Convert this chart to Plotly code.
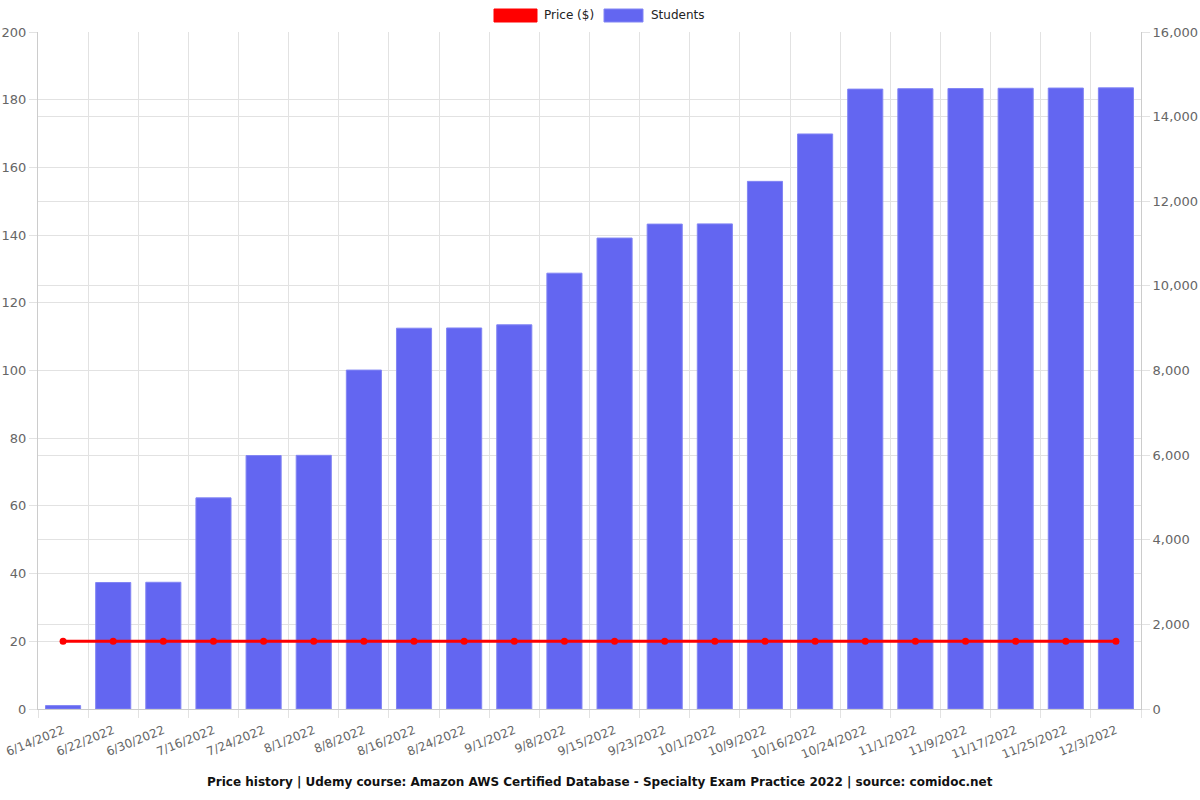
import plotly.graph_objects as go

dates = ["6/14/2022", "6/22/2022", "6/30/2022", "7/16/2022", "7/24/2022", "8/1/2022",
         "8/8/2022", "8/16/2022", "8/24/2022", "9/1/2022", "9/8/2022", "9/15/2022",
         "9/23/2022", "10/1/2022", "10/9/2022", "10/16/2022", "10/24/2022", "11/1/2022",
         "11/9/2022", "11/17/2022", "11/25/2022", "12/3/2022"]
students = [80, 2990, 2995, 4990, 5990, 5995, 8010, 9000, 9005, 9080, 10300, 11130,
            11460, 11465, 12470, 13590, 14650, 14660, 14665, 14670, 14675, 14680]
price = [20] * len(dates)

title_text = "Price history | Udemy course: Amazon AWS Certified Database - Specialty Exam Practice 2022 | source: comidoc.net"

fig = go.Figure()
fig.add_trace(go.Bar(x=dates, y=students, name="Students", yaxis="y",
                     marker=dict(color="#6366f1", line=dict(color="#8285f4", width=1)),
                     width=0.7, showlegend=False))
fig.add_trace(go.Scatter(x=dates, y=price, name="Price ($)", mode="lines+markers",
                         yaxis="y2",
                         line=dict(color="#ff0000", width=3),
                         marker=dict(color="#ff0000", size=7),
                         showlegend=False))

grid = "#e2e2e2"
font_fam = "DejaVu Sans"
PW, PH = 1103, 677  # plot area size in px

# custom legend (wide swatches like the reference)
shapes = [
    dict(type="rect", xref="paper", yref="paper", x0=(494 - 38) / PW, x1=(537 - 38) / PW,
         y0=1 + 10 / PH, y1=1 + 23 / PH, fillcolor="#ff0000", line=dict(color="#ff0000", width=1)),
    dict(type="rect", xref="paper", yref="paper", x0=(604 - 38) / PW, x1=(643 - 38) / PW,
         y0=1 + 10 / PH, y1=1 + 23 / PH, fillcolor="#6366f1", line=dict(color="#8285f4", width=1)),
]
annotations = [
    dict(text="Price ($)", xref="paper", yref="paper", x=(542 - 38) / PW, y=1 + 16.5 / PH,
         xanchor="left", yanchor="middle", showarrow=False,
         font=dict(size=12, color="#222222", family=font_fam)),
    dict(text="Students", xref="paper", yref="paper", x=(649 - 38) / PW, y=1 + 16.5 / PH,
         xanchor="left", yanchor="middle", showarrow=False,
         font=dict(size=12, color="#222222", family=font_fam)),
    dict(text="<b>" + title_text + "</b>", xref="paper", yref="paper",
         x=(600 - 38) / PW, y=0, yshift=-73, xanchor="center", yanchor="middle",
         showarrow=False, font=dict(size=12, color="#111111", family=font_fam)),
]

fig.update_layout(
    width=1200, height=800,
    margin=dict(l=38, r=59, t=32, b=91),
    plot_bgcolor="white", paper_bgcolor="white",
    font=dict(family=font_fam, size=12, color="#666666"),
    showlegend=False,
    xaxis=dict(type="category", range=[-0.5, len(dates) - 0.5], tickangle=-22,
               showgrid=True, gridcolor=grid, automargin=False,
               tickson="boundaries", ticks="outside", ticklen=8, tickcolor=grid,
               ticklabelstandoff=9,
               linecolor="#cccccc", showline=True, tickfont=dict(size=12, color="#666666")),
    yaxis=dict(range=[0, 16000], dtick=2000, side="right", showgrid=True, gridcolor=grid,
               tickformat=",", ticks="outside", ticklen=8, tickcolor=grid, zeroline=False,
               showline=True, linecolor="#cccccc", automargin=False,
               tickfont=dict(size=13, color="#666666")),
    yaxis2=dict(range=[0, 200], dtick=20, overlaying="y", side="left",
                showgrid=True, gridcolor=grid, ticks="outside",
                ticklen=8, tickcolor=grid, zeroline=False, showline=True,
                linecolor="#cccccc", automargin=False,
                tickfont=dict(size=13, color="#666666")),
    shapes=shapes,
    annotations=annotations,
)
# remove the browser's default 8px body margin so the figure fills the window
fig.write_html("out.html", config={"displayModeBar": False},
               post_script="document.body.style.margin='0';document.body.style.overflow='hidden';")
